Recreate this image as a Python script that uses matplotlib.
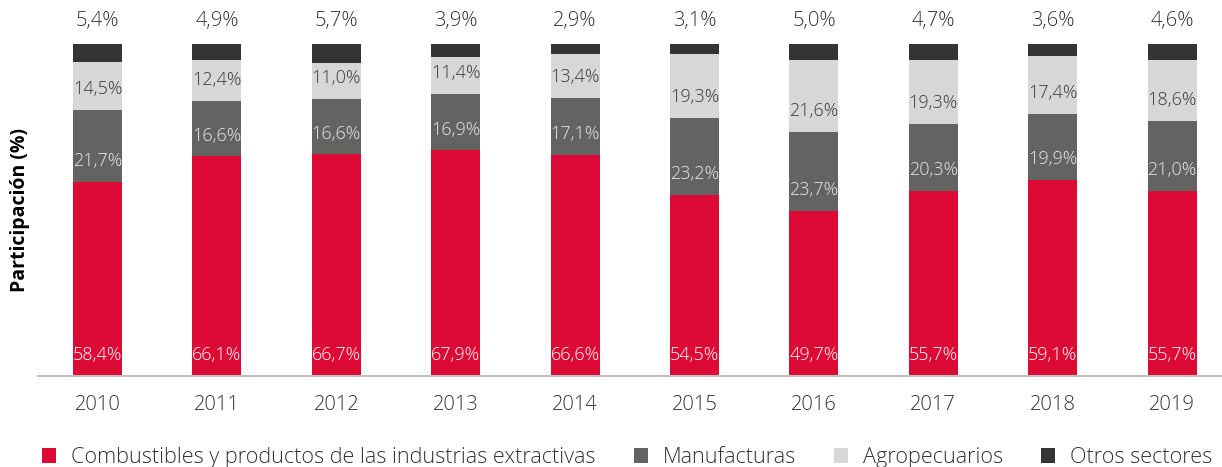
import matplotlib
matplotlib.use("Agg")
import matplotlib.pyplot as plt
import numpy as np

plt.rcParams["font.family"] = ["Open Sans", "DejaVu Sans"]
plt.rcParams["font.weight"] = "light"

years = ["2010", "2011", "2012", "2013", "2014", "2015", "2016", "2017", "2018", "2019"]
combustibles = [58.4, 66.1, 66.7, 67.9, 66.6, 54.5, 49.7, 55.7, 59.1, 55.7]
manufacturas = [21.7, 16.6, 16.6, 16.9, 17.1, 23.2, 23.7, 20.3, 19.9, 21.0]
agropecuarios = [14.5, 12.4, 11.0, 11.4, 13.4, 19.3, 21.6, 19.3, 17.4, 18.6]
otros = [5.4, 4.9, 5.7, 3.9, 2.9, 3.1, 5.0, 4.7, 3.6, 4.6]

series = [
    ("Combustibles y productos de las industrias extractivas", combustibles, "#DC0A35", "white"),
    ("Manufacturas", manufacturas, "#636362", "#e8e8e8"),
    ("Agropecuarios", agropecuarios, "#D7D7D6", "#3a3a3a"),
    ("Otros sectores", otros, "#343432", None),
]

fig = plt.figure(figsize=(12.22, 4.67), dpi=100)
ax = fig.add_axes([0.031, 0.195, 0.977, 0.711])

x = np.arange(len(years))
bottom = np.zeros(len(years))
for name, vals, color, tcolor in series:
    vals = np.array(vals)
    ax.bar(x, vals, 0.41, bottom=bottom, color=color, label=name, linewidth=0)
    for xi, b, v in zip(x, bottom, vals):
        txt = f"{v:.1f}%".replace(".", ",")
        if tcolor is None:
            # otros sectores label sits above the bar
            ax.text(xi, 107, txt, ha="center", va="center", color="#333333",
                    fontsize=14.5, clip_on=False)
        else:
            ax.text(xi, b + 6.3, txt, ha="center", va="center", color=tcolor,
                    fontsize=13)
    bottom += vals

ax.set_xlim(-0.5, 9.5)
ax.set_ylim(0, 100)
ax.set_xticks(x)
ax.set_xticklabels(years, fontsize=14.5, color="#333333")
ax.tick_params(axis="x", length=0, pad=14)
ax.set_yticks([])
for s in ["top", "right", "left"]:
    ax.spines[s].set_visible(False)
ax.spines["bottom"].set_color("#c0c0c0")
ax.spines["bottom"].set_linewidth(1.5)
ax.set_ylabel("Participación (%)", fontsize=14, fontweight="bold", labelpad=6)

ax.legend(loc="upper left", bbox_to_anchor=(-0.013, -0.155), ncol=4, frameon=False,
          fontsize=15.6, handlelength=0.65, handleheight=0.65, handletextpad=0.7,
          columnspacing=1.75, labelcolor="#333333")

fig.savefig("out.png", dpi=100)
